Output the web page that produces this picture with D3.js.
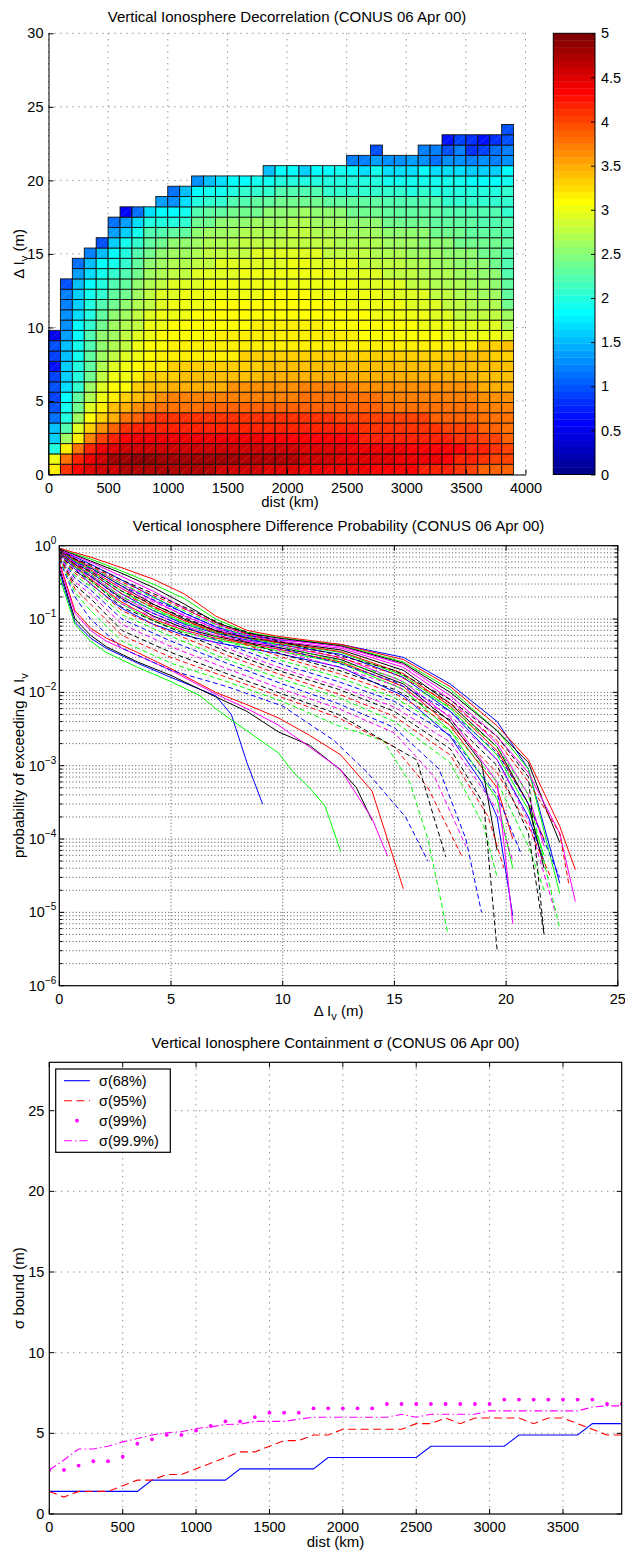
<!DOCTYPE html>
<html>
<head>
<meta charset="utf-8">
<script src="https://cdn.jsdelivr.net/npm/d3@7"></script>
<style>
  body { margin: 0; background: #fff; }
  svg { display: block; }
  text { font-family: "Liberation Sans", Arial, Helvetica, sans-serif; fill: #000; }
</style>
</head>
<body>
<svg id="fig" width="625" height="1553"></svg>
<script>
// ---------------- data ----------------
// panel 1: log10 counts per cell, one array per 100 km column, bottom row first (rows are 0.7 m)
const decorrColumns = [
  [3.2,3.0,2.0,1.6,1.5,1.1,1.0,0.9,1.0,0.9,0.7,0.9,1.0,0.5],
  [4.1,3.8,3.2,2.6,2.2,2.0,1.9,1.8,1.7,1.6,1.6,1.5,1.5,1.4,1.3,1.3,1.2,1.2,1.0],
  [4.3,4.2,3.8,3.2,2.9,2.6,2.4,2.3,2.1,2.0,2.0,1.9,1.9,1.8,1.8,1.7,1.6,1.6,1.5,1.4,1.1],
  [4.5,4.4,4.2,3.7,3.3,3.1,2.9,2.7,2.6,2.4,2.3,2.3,2.2,2.2,2.1,2.0,2.0,1.9,1.8,1.7,1.5,1.2],
  [4.6,4.6,4.4,4.0,3.6,3.3,3.2,3.0,2.9,2.8,2.7,2.6,2.5,2.5,2.4,2.3,2.2,2.1,2.0,1.9,1.8,1.5,1.0],
  [4.6,4.8,4.5,4.2,3.9,3.5,3.4,3.2,3.1,3.0,2.9,2.8,2.7,2.6,2.6,2.5,2.4,2.3,2.2,2.1,1.9,1.8,1.6,1.4,1.1],
  [4.7,4.8,4.6,4.3,4.1,3.8,3.5,3.3,3.1,3.0,3.0,2.9,2.8,2.8,2.7,2.6,2.5,2.4,2.3,2.2,2.1,2.0,1.9,1.6,1.4,0.6],
  [4.7,4.9,4.6,4.4,4.2,3.9,3.6,3.4,3.3,3.2,3.1,3.0,3.0,2.9,2.8,2.8,2.7,2.6,2.5,2.4,2.3,2.2,2.1,1.9,1.7,1.1],
  [4.7,4.9,4.6,4.4,4.2,4.0,3.7,3.5,3.4,3.3,3.2,3.1,3.1,3.0,3.0,2.9,2.8,2.8,2.7,2.6,2.5,2.4,2.3,2.2,2.0,1.7],
  [4.7,4.8,4.6,4.4,4.2,4.1,3.8,3.6,3.4,3.3,3.2,3.2,3.1,3.1,3.0,3.0,2.9,2.9,2.8,2.7,2.6,2.5,2.4,2.2,2.0,1.8,1.4],
  [4.7,4.8,4.6,4.4,4.2,4.1,3.8,3.7,3.5,3.3,3.3,3.2,3.2,3.1,3.1,3.0,3.0,2.9,2.9,2.8,2.7,2.6,2.5,2.3,2.0,1.8,1.3,1.1],
  [4.7,4.8,4.6,4.4,4.2,4.1,3.8,3.7,3.5,3.4,3.3,3.2,3.2,3.1,3.1,3.0,3.0,3.0,2.9,2.8,2.7,2.6,2.5,2.3,2.1,1.9,1.7,1.5],
  [4.7,4.8,4.6,4.4,4.2,4.1,3.8,3.7,3.5,3.4,3.3,3.2,3.2,3.1,3.1,3.1,3.0,3.0,2.9,2.9,2.8,2.7,2.6,2.5,2.4,2.2,2.0,1.8,1.3],
  [4.7,4.8,4.6,4.4,4.2,4.1,3.9,3.7,3.5,3.4,3.3,3.2,3.2,3.1,3.1,3.1,3.0,3.0,3.0,2.9,2.8,2.8,2.7,2.6,2.4,2.3,2.1,1.9,1.5],
  [4.6,4.8,4.6,4.4,4.2,4.1,3.9,3.7,3.5,3.4,3.3,3.2,3.2,3.2,3.1,3.1,3.1,3.0,3.0,2.9,2.9,2.8,2.7,2.6,2.5,2.3,2.1,1.9,1.7],
  [4.6,4.8,4.6,4.4,4.2,4.1,3.9,3.7,3.6,3.4,3.3,3.2,3.2,3.2,3.1,3.1,3.1,3.0,3.0,2.9,2.9,2.8,2.7,2.6,2.5,2.4,2.2,2.0,1.8],
  [4.6,4.7,4.6,4.4,4.2,4.1,3.9,3.7,3.6,3.4,3.3,3.3,3.2,3.2,3.1,3.1,3.1,3.0,3.0,3.0,2.9,2.8,2.8,2.7,2.5,2.4,2.2,2.1,1.8],
  [4.6,4.7,4.6,4.4,4.2,4.1,3.9,3.7,3.6,3.4,3.3,3.3,3.2,3.2,3.2,3.1,3.1,3.0,3.0,3.0,2.9,2.9,2.8,2.7,2.6,2.4,2.3,2.1,1.9],
  [4.5,4.7,4.6,4.3,4.2,4.1,3.9,3.7,3.6,3.5,3.4,3.3,3.2,3.2,3.2,3.1,3.1,3.1,3.0,3.0,2.9,2.9,2.8,2.7,2.6,2.5,2.3,2.1,1.9,1.5],
  [4.5,4.7,4.6,4.3,4.2,4.1,3.9,3.7,3.6,3.5,3.4,3.3,3.2,3.2,3.2,3.1,3.1,3.1,3.0,3.0,2.9,2.9,2.8,2.7,2.6,2.5,2.4,2.2,2.0,1.8],
  [4.5,4.7,4.6,4.3,4.2,4.1,3.9,3.7,3.6,3.5,3.4,3.3,3.2,3.2,3.2,3.1,3.1,3.1,3.0,3.0,3.0,2.9,2.8,2.8,2.7,2.5,2.4,2.2,2.0,1.8],
  [4.4,4.6,4.5,4.3,4.2,4.1,3.9,3.8,3.7,3.5,3.4,3.3,3.2,3.2,3.2,3.1,3.1,3.1,3.0,3.0,3.0,2.9,2.8,2.8,2.7,2.6,2.4,2.2,2.0,1.6],
  [4.4,4.6,4.5,4.3,4.2,4.1,3.9,3.8,3.7,3.5,3.4,3.3,3.2,3.2,3.2,3.1,3.1,3.0,3.0,3.0,2.9,2.9,2.8,2.7,2.6,2.5,2.4,2.2,2.0,1.8],
  [4.4,4.6,4.5,4.3,4.2,4.1,3.9,3.8,3.7,3.5,3.4,3.3,3.2,3.2,3.1,3.1,3.1,3.0,3.0,3.0,2.9,2.8,2.8,2.7,2.6,2.5,2.3,2.1,2.0,1.8],
  [4.4,4.5,4.5,4.3,4.2,4.0,3.9,3.8,3.7,3.5,3.4,3.3,3.2,3.2,3.1,3.1,3.0,3.0,3.0,2.9,2.9,2.8,2.7,2.7,2.6,2.5,2.3,2.1,2.0,1.9],
  [4.4,4.5,4.4,4.3,4.2,4.0,3.9,3.8,3.7,3.5,3.4,3.3,3.2,3.2,3.1,3.1,3.0,3.0,3.0,2.9,2.9,2.8,2.7,2.6,2.5,2.4,2.3,2.1,2.0,1.8,1.2],
  [4.4,4.5,4.4,4.2,4.1,4.0,3.9,3.8,3.6,3.5,3.4,3.3,3.2,3.1,3.1,3.1,3.0,3.0,2.9,2.9,2.8,2.8,2.7,2.6,2.5,2.4,2.3,2.1,2.0,1.7,1.2],
  [4.3,4.5,4.4,4.2,4.1,4.0,3.9,3.8,3.6,3.5,3.4,3.3,3.2,3.1,3.1,3.0,3.0,3.0,2.9,2.9,2.8,2.7,2.7,2.6,2.5,2.4,2.3,2.1,2.0,1.9,1.4,1.0],
  [4.3,4.5,4.4,4.2,4.1,4.0,3.8,3.7,3.6,3.5,3.4,3.3,3.2,3.1,3.1,3.0,3.0,2.9,2.9,2.8,2.8,2.7,2.6,2.5,2.4,2.3,2.2,2.1,1.9,1.7,1.3],
  [4.3,4.4,4.4,4.2,4.1,4.0,3.8,3.7,3.6,3.5,3.4,3.3,3.2,3.1,3.1,3.0,3.0,2.9,2.9,2.8,2.8,2.7,2.6,2.5,2.4,2.3,2.2,2.1,1.9,1.7,1.3],
  [4.3,4.4,4.3,4.2,4.1,4.0,3.8,3.7,3.6,3.5,3.4,3.3,3.2,3.1,3.1,3.0,2.9,2.9,2.8,2.8,2.7,2.6,2.6,2.5,2.4,2.3,2.2,2.0,1.9,1.7,1.4],
  [4.2,4.4,4.3,4.2,4.1,4.0,3.8,3.7,3.6,3.5,3.4,3.3,3.2,3.1,3.0,3.0,2.9,2.9,2.8,2.7,2.7,2.6,2.5,2.5,2.4,2.3,2.2,2.1,1.9,1.8,1.3,1.2],
  [4.2,4.4,4.3,4.2,4.1,3.9,3.8,3.7,3.6,3.5,3.4,3.3,3.2,3.1,3.0,2.9,2.9,2.8,2.7,2.7,2.6,2.6,2.5,2.4,2.3,2.3,2.2,2.0,1.9,1.7,1.1,1.2],
  [4.2,4.3,4.3,4.2,4.0,3.9,3.8,3.7,3.6,3.5,3.4,3.3,3.2,3.0,3.0,2.9,2.8,2.8,2.7,2.7,2.6,2.5,2.5,2.4,2.3,2.2,2.1,2.0,1.9,1.7,1.3,1.0,0.7],
  [4.1,4.2,4.3,4.1,4.0,3.9,3.8,3.7,3.6,3.5,3.4,3.4,3.2,3.0,2.9,2.8,2.8,2.7,2.7,2.6,2.5,2.5,2.4,2.4,2.3,2.2,2.1,2.0,1.9,1.7,1.3,1.2,0.9],
  [4.0,4.2,4.2,4.1,4.0,3.9,3.8,3.7,3.6,3.5,3.4,3.4,3.2,3.0,2.9,2.8,2.7,2.7,2.6,2.6,2.5,2.5,2.4,2.3,2.3,2.2,2.1,2.0,1.8,1.6,1.2,0.8,0.8],
  [3.9,4.1,4.2,4.0,3.9,3.8,3.7,3.6,3.5,3.4,3.4,3.4,3.3,3.0,2.9,2.8,2.7,2.6,2.6,2.5,2.5,2.4,2.4,2.3,2.2,2.2,2.1,2.0,1.8,1.6,1.3,0.9,0.7],
  [3.9,4.0,4.1,4.0,3.9,3.8,3.7,3.6,3.5,3.4,3.4,3.3,3.3,3.0,2.9,2.8,2.7,2.6,2.5,2.5,2.4,2.4,2.4,2.3,2.2,2.2,2.1,2.0,1.8,1.6,1.2,1.1,0.8],
  [3.9,4.0,4.0,3.9,3.8,3.8,3.7,3.6,3.5,3.4,3.4,3.3,3.4,2.9,2.7,2.6,2.4,2.3,2.3,2.2,2.2,2.2,2.3,2.2,2.2,2.1,2.1,2.1,1.9,1.8,1.3,1.2,1.0,1.0]
];
const colWidthKm = 100;
const rowHeightM = 0.7;
const colorbarTicks = [0, 0.5, 1, 1.5, 2, 2.5, 3, 3.5, 4, 4.5, 5];

// panel 2: exceedance curves, one per distance bin, [delta Iv (m), probability]
const probCurves = [
  [[0,0.45],[0.7,0.09],[1.4,0.055],[2.1,0.04],[3.5,0.025],[5,0.016],[6.3,0.011],[7,0.009],[7.7,0.005],[8.4,0.0011],[9.1,0.0003]],
  [[0,0.38],[0.7,0.085],[1.4,0.05],[2.1,0.035],[3.5,0.022],[5,0.014],[6.3,0.009],[7,0.006],[7.7,0.0042],[8.4,0.003],[9.1,0.0021],[9.8,0.0015],[10.5,0.0008],[11.2,0.0005],[11.9,0.00028],[12.6,0.000067]],
  [[0,0.6],[0.7,0.13],[1.4,0.075],[2.1,0.055],[3.5,0.035],[5,0.021],[7,0.01],[8.4,0.0068],[9.8,0.0045],[11.2,0.0026],[12.6,0.0014],[14,0.00045],[15.4,0.000021]],
  [[0,0.5],[0.7,0.1],[1.4,0.06],[2.1,0.042],[3.5,0.026],[5,0.017],[7,0.0087],[8.4,0.0055],[9.8,0.0029],[11.2,0.0019],[12.6,0.00087],[13.3,0.0005],[14,0.00018]],
  [[0,0.55],[0.7,0.12],[1.4,0.07],[2.1,0.05],[3.5,0.032],[5,0.02],[7,0.0095],[8.4,0.006],[9.8,0.0036],[11.2,0.0018],[12.6,0.00088],[14,0.00019],[14.7,0.000058]],
  [[0,0.65],[0.7,0.2],[1.4,0.1],[2.8,0.04],[5,0.02],[7.5,0.012],[10,0.0065],[12.3,0.0022],[13.8,0.0008],[15.5,0.0002],[16.5,0.00005]],
  [[0,0.68],[0.7,0.23],[1.4,0.13],[2.8,0.05],[5,0.025],[7.5,0.014],[10,0.0075],[12.5,0.0035],[14.5,0.0022],[15.7,0.00058],[16.5,0.0001],[17.4,0.000005]],
  [[0,0.7],[0.7,0.26],[1.4,0.16],[2.8,0.06],[5,0.03],[7.5,0.016],[10,0.0085],[12.5,0.0045],[15,0.0018],[16.5,0.0005],[18,0.00006]],
  [[0,0.72],[0.7,0.29],[1.4,0.19],[2.8,0.07],[5,0.035],[7.5,0.018],[10,0.0095],[12.5,0.005],[14.5,0.0022],[16,0.0012],[17.3,0.000057]],
  [[0,0.74],[0.7,0.32],[1.4,0.22],[2.8,0.085],[5,0.042],[7.5,0.021],[10,0.011],[12.5,0.006],[15,0.0028],[16.8,0.0007],[18.2,0.00008]],
  [[0,0.78],[1.4,0.3],[2.8,0.14],[4.2,0.085],[5.6,0.06],[7,0.048],[8.4,0.04],[9.8,0.034],[12.6,0.022],[15.4,0.009],[17.5,0.0025],[18.9,0.0006],[19.6,0.0002],[20.3,0.000009]],
  [[0,0.8],[1.4,0.33],[2.8,0.16],[4.2,0.095],[5.6,0.066],[7,0.052],[8.4,0.044],[9.8,0.037],[12.6,0.025],[15.4,0.011],[17.5,0.003],[19.6,0.00035],[20.3,0.00004]],
  [[0,0.8],[1.4,0.35],[2.8,0.17],[4.2,0.1],[5.6,0.07],[7,0.055],[8.4,0.046],[9.8,0.039],[12.6,0.026],[15.4,0.012],[17.5,0.0035],[19.6,0.0005],[20.3,0.0001]],
  [[0,0.82],[1.4,0.38],[2.8,0.19],[4.2,0.11],[5.6,0.075],[7,0.058],[8.4,0.048],[9.8,0.041],[12.6,0.028],[15.4,0.013],[17.5,0.004],[18.9,0.0011],[19.6,0.00007]],
  [[0,0.83],[1.4,0.4],[2.8,0.2],[4.2,0.12],[5.6,0.08],[7,0.06],[8.4,0.05],[9.8,0.043],[12.6,0.03],[15.4,0.014],[17.5,0.0045],[19.6,0.0006],[20.3,0.000007]],
  [[0,0.76],[0.7,0.36],[1.4,0.25],[2.8,0.1],[5,0.05],[7.5,0.025],[10,0.013],[12.5,0.007],[15,0.0033],[17,0.0009],[18.2,0.0001],[18.9,0.00001]],
  [[0,0.77],[0.7,0.39],[1.4,0.28],[2.8,0.115],[5,0.058],[7.5,0.028],[10,0.015],[12.5,0.0085],[15,0.004],[17.5,0.0011],[19,0.00015],[19.6,0.00003]],
  [[0,0.78],[0.7,0.42],[1.4,0.31],[2.8,0.13],[5,0.066],[7.5,0.032],[10,0.017],[12.5,0.0095],[15,0.0047],[17.5,0.0014],[19.2,0.0002],[19.9,0.00004]],
  [[0,0.79],[0.7,0.45],[1.4,0.34],[2.8,0.145],[5,0.075],[7.5,0.036],[10,0.019],[12.5,0.011],[15,0.0055],[17.5,0.0017],[19,0.0003],[19.6,0.000003]],
  [[0,0.8],[0.7,0.48],[1.4,0.37],[2.8,0.16],[5,0.085],[7.5,0.04],[10,0.021],[12.5,0.012],[15,0.0063],[17.5,0.0021],[19.6,0.00025],[20.3,0.00005]],
  [[0,0.84],[1.4,0.43],[2.8,0.22],[4.2,0.13],[5.6,0.085],[7,0.064],[8.4,0.052],[9.8,0.045],[12.6,0.033],[15.4,0.016],[17.5,0.0055],[19.6,0.0012],[21,0.0002],[21.7,0.00005]],
  [[0,0.85],[1.4,0.45],[2.8,0.24],[4.2,0.14],[5.6,0.09],[7,0.066],[8.4,0.054],[9.8,0.047],[12.6,0.035],[15.4,0.017],[17.5,0.006],[19.6,0.0014],[21,0.00025],[21.7,0.00006]],
  [[0,0.85],[1.4,0.47],[2.8,0.26],[4.2,0.15],[5.6,0.095],[7,0.068],[8.4,0.055],[9.8,0.048],[12.6,0.036],[15.4,0.018],[17.5,0.0065],[19.6,0.0016],[21,0.0003],[21.7,0.0001]],
  [[0,0.86],[1.4,0.5],[2.8,0.28],[4.2,0.16],[5.6,0.1],[7,0.07],[8.4,0.056],[9.8,0.049],[12.6,0.038],[15.4,0.02],[17.5,0.007],[19.6,0.0018],[21,0.0003],[21.7,0.00004]],
  [[0,0.87],[1.4,0.52],[2.8,0.3],[4.2,0.18],[5.6,0.11],[7,0.074],[8.4,0.058],[9.8,0.05],[12.6,0.04],[15.4,0.022],[17.5,0.008],[19.6,0.002],[21,0.0004],[21.7,0.00008]],
  [[0,0.81],[0.7,0.5],[1.4,0.39],[2.8,0.18],[5,0.095],[7.5,0.045],[10,0.024],[12.5,0.014],[15,0.0075],[17.5,0.0026],[19.6,0.0004],[20.7,0.00006]],
  [[0,0.82],[0.7,0.52],[1.4,0.41],[2.8,0.2],[5,0.105],[7.5,0.05],[10,0.027],[12.5,0.016],[15,0.0085],[17.5,0.003],[19.6,0.0006],[21,0.00008],[21.7,0.00002]],
  [[0,0.83],[0.7,0.54],[1.4,0.43],[2.8,0.22],[5,0.115],[7.5,0.055],[10,0.03],[12.5,0.018],[15,0.0097],[17.5,0.0036],[19.6,0.0008],[21,0.00015],[22,0.00003]],
  [[0,0.84],[0.7,0.56],[1.4,0.45],[2.8,0.24],[5,0.125],[7.5,0.06],[10,0.033],[12.5,0.02],[15,0.011],[17.5,0.0042],[19.6,0.001],[21,0.00012],[21.7,0.000005]],
  [[0,0.85],[0.7,0.58],[1.4,0.47],[2.8,0.26],[5,0.135],[7.5,0.064],[10,0.036],[12.5,0.022],[15,0.0125],[17.5,0.0048],[19.6,0.0012],[21,0.00018],[22.2,0.00001]],
  [[0,0.88],[1.4,0.56],[2.8,0.34],[4.2,0.2],[5.6,0.12],[7,0.078],[8.4,0.06],[9.8,0.052],[12.6,0.045],[15.4,0.03],[17.5,0.013],[19.6,0.004],[21,0.0009],[22.4,0.000025]],
  [[0,0.9],[1.4,0.66],[2.8,0.45],[4.2,0.3],[5.6,0.19],[7,0.1],[8.4,0.066],[9.8,0.056],[12.6,0.044],[15.4,0.026],[17.5,0.011],[19.6,0.003],[21,0.0009],[22.4,0.000018]],
  [[0,0.92],[1.4,0.7],[2.8,0.5],[4.2,0.35],[5.6,0.22],[7,0.11],[8.4,0.07],[9.8,0.058],[12.6,0.045],[15.4,0.028],[17.5,0.012],[19.6,0.0035],[21,0.0012],[22.4,0.00015],[23.1,0.000038]],
  [[0,0.9],[1.4,0.62],[2.8,0.42],[4.2,0.27],[5.6,0.16],[7,0.09],[8.4,0.064],[9.8,0.055],[12.6,0.043],[15.4,0.025],[17.5,0.01],[19.6,0.003],[21,0.0011],[21.7,0.0003],[22.4,0.00009]],
  [[0,0.88],[1.4,0.6],[2.8,0.38],[4.2,0.24],[5.6,0.14],[7,0.085],[8.4,0.062],[9.8,0.053],[12.6,0.042],[15.4,0.024],[17.5,0.009],[19.6,0.0025],[21,0.0008],[22.4,0.00012],[23.1,0.000014]],
  [[0,0.86],[0.7,0.6],[1.4,0.49],[2.8,0.28],[5,0.145],[7.5,0.068],[10,0.039],[12.5,0.025],[15,0.014],[17.5,0.0055],[19.6,0.0015],[21,0.0003],[22.4,0.00003]],
  [[0,0.87],[0.7,0.62],[1.4,0.51],[2.8,0.3],[5,0.155],[7.5,0.072],[10,0.042],[12.5,0.027],[15,0.016],[17.5,0.0063],[19.6,0.0018],[21,0.0004],[22.4,0.000006]],
  [[0,0.88],[0.7,0.64],[1.4,0.53],[2.8,0.32],[5,0.165],[7.5,0.076],[10,0.045],[12.5,0.03],[15,0.018],[17.5,0.0072],[19.6,0.0022],[21,0.0006],[22.4,0.00012],[22.8,0.000025]],
  [[0,0.89],[0.7,0.66],[1.4,0.55],[2.8,0.34],[5,0.175],[7.5,0.08],[10,0.048],[12.5,0.032],[15,0.02],[17.5,0.008],[19.6,0.0025],[21,0.0007],[21.7,0.000005]]
];
const curveColors = ['#0000ff', '#00ff00', '#ff0000', '#000000', '#ff00ff'];

// panel 3: containment sigma vs distance
const sigmaDist = [0,100,200,300,400,500,600,700,800,900,1000,1100,1200,1300,1400,1500,1600,1700,1800,1900,
  2000,2100,2200,2300,2400,2500,2600,2700,2800,2900,3000,3100,3200,3300,3400,3500,3600,3700,3800,3900];
const sigma68 = [1.4,1.4,1.4,1.4,1.4,1.4,1.4,2.1,2.1,2.1,2.1,2.1,2.1,2.8,2.8,2.8,2.8,2.8,2.8,3.5,
  3.5,3.5,3.5,3.5,3.5,3.5,4.2,4.2,4.2,4.2,4.2,4.2,4.9,4.9,4.9,4.9,4.9,5.6,5.6,5.6];
const sigma95 = [1.4,1.05,1.4,1.4,1.4,1.75,2.1,2.1,2.45,2.45,2.8,3.15,3.5,3.85,3.85,4.2,4.55,4.55,4.9,4.9,
  5.25,5.25,5.25,5.25,5.25,5.6,5.6,5.95,5.6,5.95,5.95,5.95,5.95,5.6,5.95,5.95,5.6,5.25,4.9,4.9];
const sigma99 = [2.73,2.73,3.0,3.27,3.27,3.55,4.36,4.63,4.9,4.9,5.17,5.46,5.74,5.74,6.01,6.28,6.28,6.28,6.55,6.55,
  6.55,6.55,6.55,6.82,6.82,6.82,6.82,6.82,6.82,6.82,6.82,7.09,7.09,7.09,7.09,7.09,7.09,7.09,6.82,6.82];
const sigma999 = [2.73,3.35,4.03,4.03,4.2,4.47,4.68,4.9,5.04,5.1,5.3,5.4,5.55,5.57,5.74,5.74,5.74,5.88,6.0,6.0,
  6.0,6.0,6.0,6.0,6.18,6.0,6.18,6.18,6.18,6.18,6.39,6.39,6.39,6.39,6.39,6.39,6.39,6.63,6.7,6.7];
const legendLabels = ['σ(68%)', 'σ(95%)', 'σ(99%)', 'σ(99.9%)'];

// ---------------- helpers ----------------
const svg = d3.select('#fig');
const FONT = '"Liberation Sans", Arial, sans-serif';
const TICK_FONT = '14.5px';
const LABEL_FONT = '15px';
const gridDots = '1,5';

// matlab jet(64)
const jetMap = d3.range(64).map(() => [0, 0, 0]);
const jetU = [...d3.range(1, 17).map(d => d / 16), ...Array(15).fill(1), ...d3.range(16, 0, -1).map(d => d / 16)];
jetU.forEach((val, j) => {
  const gi = 8 + j, ri = gi + 16, bi = gi - 16;
  if (ri < 64) jetMap[ri][0] = val;
  if (gi < 64) jetMap[gi][1] = val;
  if (bi >= 0) jetMap[bi][2] = val;
});
function jetColor(v) {
  const k = Math.max(0, Math.min(63, Math.floor(v / 5 * 64)));
  const c = jetMap[k];
  return d3.rgb(c[0] * 255, c[1] * 255, c[2] * 255).formatHex();
}

function title(x, y, str) {
  svg.append('text').attr('x', x).attr('y', y)
    .attr('text-anchor', 'middle').style('font-size', LABEL_FONT).text(str);
}

// text with a subscript "v" after "Δ I"
function deltaIvLabel(g, prefix, suffix) {
  const t = g.append('text').style('font-size', LABEL_FONT);
  t.append('tspan').text(prefix + 'Δ I');
  t.append('tspan').attr('dy', 4).style('font-size', '11px').text('v');
  t.append('tspan').attr('dy', -4).text(suffix);
  return t;
}

// ================= panel 1 : decorrelation map =================
const p1 = { left: 48.5, right: 525.5, top: 33.3, bottom: 474.5 };
const x1 = d3.scaleLinear().domain([0, 4000]).range([p1.left, p1.right]);
const y1 = d3.scaleLinear().domain([0, 30]).range([p1.bottom, p1.top]);
const g1 = svg.append('g');

// grid (drawn under the cells)
x1.ticks(8).forEach(t => {
  g1.append('line').attr('x1', x1(t)).attr('x2', x1(t)).attr('y1', p1.top).attr('y2', p1.bottom)
    .attr('stroke', '#666').attr('stroke-dasharray', gridDots).attr('stroke-width', 1);
});
y1.ticks(6).forEach(t => {
  g1.append('line').attr('x1', p1.left).attr('x2', p1.right).attr('y1', y1(t)).attr('y2', y1(t))
    .attr('stroke', '#666').attr('stroke-dasharray', gridDots).attr('stroke-width', 1);
});

const cells = [];
decorrColumns.forEach((col, i) => {
  col.forEach((v, r) => cells.push({ i, r, v }));
});
const cellW = x1(colWidthKm) - x1(0);
const cellH = y1(0) - y1(rowHeightM);
const cellG = g1.append('g').selectAll('g').data(cells).join('g')
  .attr('transform', d => `translate(${x1(d.i * colWidthKm)},${y1((d.r + 1) * rowHeightM)})`);
cellG.append('rect')
  .attr('width', cellW).attr('height', cellH)
  .attr('fill', d => jetColor(d.v))
  .attr('stroke', '#111').attr('stroke-width', 0.9);
// faint triangulation diagonal seen in the original rendering
cellG.append('line')
  .attr('x1', 1).attr('y1', cellH - 1).attr('x2', cellW - 1).attr('y2', 1)
  .attr('stroke', '#fff').attr('stroke-opacity', 0.22).attr('stroke-width', 0.6);

// axes (left + bottom, inward ticks)
const ax1x = g1.append('g').attr('transform', `translate(0,${p1.bottom})`)
  .call(d3.axisBottom(x1).ticks(8).tickFormat(d3.format('d')).tickSizeInner(-5).tickSizeOuter(0).tickPadding(8));
const ax1y = g1.append('g').attr('transform', `translate(${p1.left},0)`)
  .call(d3.axisLeft(y1).ticks(6).tickSizeInner(-5).tickSizeOuter(0).tickPadding(5));
[ax1x, ax1y].forEach(a => {
  a.selectAll('text').style('font-size', TICK_FONT).style('font-family', FONT);
  a.select('.domain').attr('stroke', '#000');
});

title((p1.left + p1.right) / 2, 22, 'Vertical Ionosphere Decorrelation (CONUS 06 Apr 00)');
svg.append('text').attr('x', (p1.left + p1.right) / 2 + 3).attr('y', 507)
  .attr('text-anchor', 'middle').style('font-size', LABEL_FONT).text('dist (km)');
deltaIvLabel(svg, '', ' (m)')
  .attr('text-anchor', 'middle')
  .attr('transform', `translate(24,${(p1.top + p1.bottom) / 2}) rotate(-90)`);

// colorbar
const cb = { left: 553.3, right: 595, top: 33.3, bottom: 474.5 };
const yc = d3.scaleLinear().domain([0, 5]).range([cb.bottom, cb.top]);
const cbBands = d3.range(64);
svg.append('g').selectAll('rect').data(cbBands).join('rect')
  .attr('x', cb.left).attr('width', cb.right - cb.left)
  .attr('y', k => yc((k + 1) * 5 / 64)).attr('height', yc(0) - yc(5 / 64) + 0.3)
  .attr('fill', k => jetColor((k + 0.5) * 5 / 64));
svg.append('rect').attr('x', cb.left).attr('y', cb.top)
  .attr('width', cb.right - cb.left).attr('height', cb.bottom - cb.top)
  .attr('fill', 'none').attr('stroke', '#000');
const axcb = svg.append('g').attr('transform', `translate(${cb.right},0)`)
  .call(d3.axisRight(yc).tickValues(colorbarTicks).tickFormat(d3.format('')).tickSizeInner(-4).tickSizeOuter(0).tickPadding(6));
axcb.select('.domain').remove();
axcb.selectAll('text').style('font-size', TICK_FONT).style('font-family', FONT);

// ================= panel 2 : exceedance probability =================
const p2 = { left: 59.3, right: 617.8, top: 545.7, bottom: 985.7 };
const x2 = d3.scaleLinear().domain([0, 25]).range([p2.left, p2.right]);
const y2 = d3.scaleLog().domain([1e-6, 1]).range([p2.bottom, p2.top]);
const g2 = svg.append('g');

const decades = [1e-6, 1e-5, 1e-4, 1e-3, 1e-2, 1e-1, 1];
const minorP = [];
decades.slice(0, -1).forEach(d => { for (let k = 2; k <= 9; k++) minorP.push(d * k); });

[...decades.slice(1, -1), ...minorP].forEach(p => {
  g2.append('line').attr('x1', p2.left).attr('x2', p2.right).attr('y1', y2(p)).attr('y2', y2(p))
    .attr('stroke', '#555').attr('stroke-dasharray', '1,2.3').attr('stroke-width', 1);
});
[5, 10, 15, 20].forEach(t => {
  g2.append('line').attr('x1', x2(t)).attr('x2', x2(t)).attr('y1', p2.top).attr('y2', p2.bottom)
    .attr('stroke', '#555').attr('stroke-dasharray', '1,2.3').attr('stroke-width', 1);
});

svg.append('clipPath').attr('id', 'clip2').append('rect')
  .attr('x', p2.left).attr('y', p2.top).attr('width', p2.right - p2.left).attr('height', p2.bottom - p2.top);
const line2 = d3.line().x(d => x2(d[0])).y(d => y2(d[1]));
g2.append('g').attr('clip-path', 'url(#clip2)')
  .selectAll('path').data(probCurves).join('path')
  .attr('d', line2)
  .attr('fill', 'none')
  .attr('stroke', (d, i) => curveColors[i % 5])
  .attr('stroke-width', 1)
  .attr('stroke-dasharray', (d, i) => (Math.floor(i / 5) % 2 === 1 ? '5,3' : null));

// box + ticks
g2.append('rect').attr('x', p2.left).attr('y', p2.top)
  .attr('width', p2.right - p2.left).attr('height', p2.bottom - p2.top)
  .attr('fill', 'none').attr('stroke', '#000').attr('stroke-width', 1.2);
const tick2 = g2.append('g').attr('stroke', '#000').attr('stroke-width', 1);
[0, 5, 10, 15, 20, 25].forEach(t => {
  tick2.append('line').attr('x1', x2(t)).attr('x2', x2(t)).attr('y1', p2.bottom).attr('y2', p2.bottom - 5);
  tick2.append('line').attr('x1', x2(t)).attr('x2', x2(t)).attr('y1', p2.top).attr('y2', p2.top + 5);
});
decades.forEach(p => {
  tick2.append('line').attr('x1', p2.left).attr('x2', p2.left + 5).attr('y1', y2(p)).attr('y2', y2(p));
  tick2.append('line').attr('x1', p2.right).attr('x2', p2.right - 5).attr('y1', y2(p)).attr('y2', y2(p));
});
minorP.forEach(p => {
  tick2.append('line').attr('x1', p2.left).attr('x2', p2.left + 3).attr('y1', y2(p)).attr('y2', y2(p));
  tick2.append('line').attr('x1', p2.right).attr('x2', p2.right - 3).attr('y1', y2(p)).attr('y2', y2(p));
});
[0, 5, 10, 15, 20, 25].forEach(t => {
  g2.append('text').attr('x', x2(t)).attr('y', p2.bottom + 18)
    .attr('text-anchor', 'middle').style('font-size', TICK_FONT).text(t);
});
decades.forEach(p => {
  const e = Math.round(Math.log10(p));
  const t = g2.append('text').attr('x', p2.left - 3).attr('y', y2(p) + 5)
    .attr('text-anchor', 'end').style('font-size', TICK_FONT);
  t.append('tspan').text('10');
  t.append('tspan').attr('dy', -7).style('font-size', '10px').text(e === 0 ? '0' : '\u2212' + (-e));
});

title((p2.left + p2.right) / 2, 531, 'Vertical Ionosphere Difference Probability (CONUS 06 Apr 00)');
deltaIvLabel(svg, '', ' (m)').attr('x', (p2.left + p2.right) / 2).attr('y', 1016)
  .attr('text-anchor', 'middle');
deltaIvLabel(svg, 'probability of exceeding ', '')
  .attr('text-anchor', 'middle')
  .attr('transform', `translate(24,${(p2.top + p2.bottom) / 2}) rotate(-90)`);

// ================= panel 3 : containment sigma =================
const p3 = { left: 49.3, right: 621.7, top: 1062.3, bottom: 1514 };
const x3 = d3.scaleLinear().domain([0, 3900]).range([p3.left, p3.right]);
const y3 = d3.scaleLinear().domain([0, 28]).range([p3.bottom, p3.top]);
const g3 = svg.append('g');
const xt3 = [0, 500, 1000, 1500, 2000, 2500, 3000, 3500];
const yt3 = [0, 5, 10, 15, 20, 25];

xt3.slice(1).forEach(t => {
  g3.append('line').attr('x1', x3(t)).attr('x2', x3(t)).attr('y1', p3.top).attr('y2', p3.bottom)
    .attr('stroke', '#666').attr('stroke-dasharray', gridDots);
});
yt3.slice(1).forEach(t => {
  g3.append('line').attr('x1', p3.left).attr('x2', p3.right).attr('y1', y3(t)).attr('y2', y3(t))
    .attr('stroke', '#666').attr('stroke-dasharray', gridDots);
});

const line3 = vals => d3.line().x((d, i) => x3(sigmaDist[i])).y(d => y3(d))(vals);
svg.append('clipPath').attr('id', 'clip3').append('rect')
  .attr('x', p3.left).attr('y', p3.top).attr('width', p3.right - p3.left).attr('height', p3.bottom - p3.top);
const plot3 = g3.append('g').attr('clip-path', 'url(#clip3)');
plot3.append('path').attr('d', line3(sigma68)).attr('fill', 'none').attr('stroke', '#0000ff').attr('stroke-width', 1.1);
plot3.append('path').attr('d', line3(sigma95)).attr('fill', 'none').attr('stroke', '#ff0000')
  .attr('stroke-width', 1.1).attr('stroke-dasharray', '8,4.5');
plot3.append('g').selectAll('circle').data(sigma99).join('circle')
  .attr('cx', (d, i) => x3(sigmaDist[i])).attr('cy', d => y3(d)).attr('r', 1.9).attr('fill', '#ff00ff');
plot3.append('path').attr('d', line3(sigma999)).attr('fill', 'none').attr('stroke', '#ff00ff')
  .attr('stroke-width', 1.1).attr('stroke-dasharray', '8,3,1.5,3');

g3.append('rect').attr('x', p3.left).attr('y', p3.top)
  .attr('width', p3.right - p3.left).attr('height', p3.bottom - p3.top)
  .attr('fill', 'none').attr('stroke', '#000').attr('stroke-width', 1.2);
const tick3 = g3.append('g').attr('stroke', '#000');
xt3.forEach(t => {
  tick3.append('line').attr('x1', x3(t)).attr('x2', x3(t)).attr('y1', p3.bottom).attr('y2', p3.bottom - 5);
  tick3.append('line').attr('x1', x3(t)).attr('x2', x3(t)).attr('y1', p3.top).attr('y2', p3.top + 5);
  g3.append('text').attr('x', x3(t)).attr('y', p3.bottom + 18).attr('text-anchor', 'middle')
    .style('font-size', TICK_FONT).text(t);
});
yt3.forEach(t => {
  tick3.append('line').attr('x1', p3.left).attr('x2', p3.left + 5).attr('y1', y3(t)).attr('y2', y3(t));
  tick3.append('line').attr('x1', p3.right).attr('x2', p3.right - 5).attr('y1', y3(t)).attr('y2', y3(t));
  g3.append('text').attr('x', p3.left - 5).attr('y', y3(t) + 5).attr('text-anchor', 'end')
    .style('font-size', TICK_FONT).text(t);
});

title((p3.left + p3.right) / 2, 1048, 'Vertical Ionosphere Containment σ (CONUS 06 Apr 00)');
svg.append('text').attr('x', (p3.left + p3.right) / 2).attr('y', 1547)
  .attr('text-anchor', 'middle').style('font-size', LABEL_FONT).text('dist (km)');
svg.append('text').attr('text-anchor', 'middle').style('font-size', LABEL_FONT)
  .attr('transform', `translate(24,${(p3.top + p3.bottom) / 2}) rotate(-90)`).text('σ bound (m)');

// legend
const lg = svg.append('g');
lg.append('rect').attr('x', 55.7).attr('y', 1069).attr('width', 114.6).attr('height', 83.3)
  .attr('fill', '#fff').attr('stroke', '#000').attr('stroke-width', 1.2);
legendLabels.forEach((lab, i) => {
  const yy = 1080.7 + i * 20;
  if (i === 2) {
    lg.append('circle').attr('cx', 77).attr('cy', yy).attr('r', 1.9).attr('fill', '#ff00ff');
  } else {
    lg.append('line').attr('x1', 64).attr('x2', 90).attr('y1', yy).attr('y2', yy)
      .attr('stroke', ['#0000ff', '#ff0000', null, '#ff00ff'][i]).attr('stroke-width', 1.1)
      .attr('stroke-dasharray', [null, '8,4.5', null, '8,3,1.5,3'][i]);
  }
  lg.append('text').attr('x', 99).attr('y', yy + 5).style('font-size', TICK_FONT).text(lab);
});
</script>
</body>
</html>
